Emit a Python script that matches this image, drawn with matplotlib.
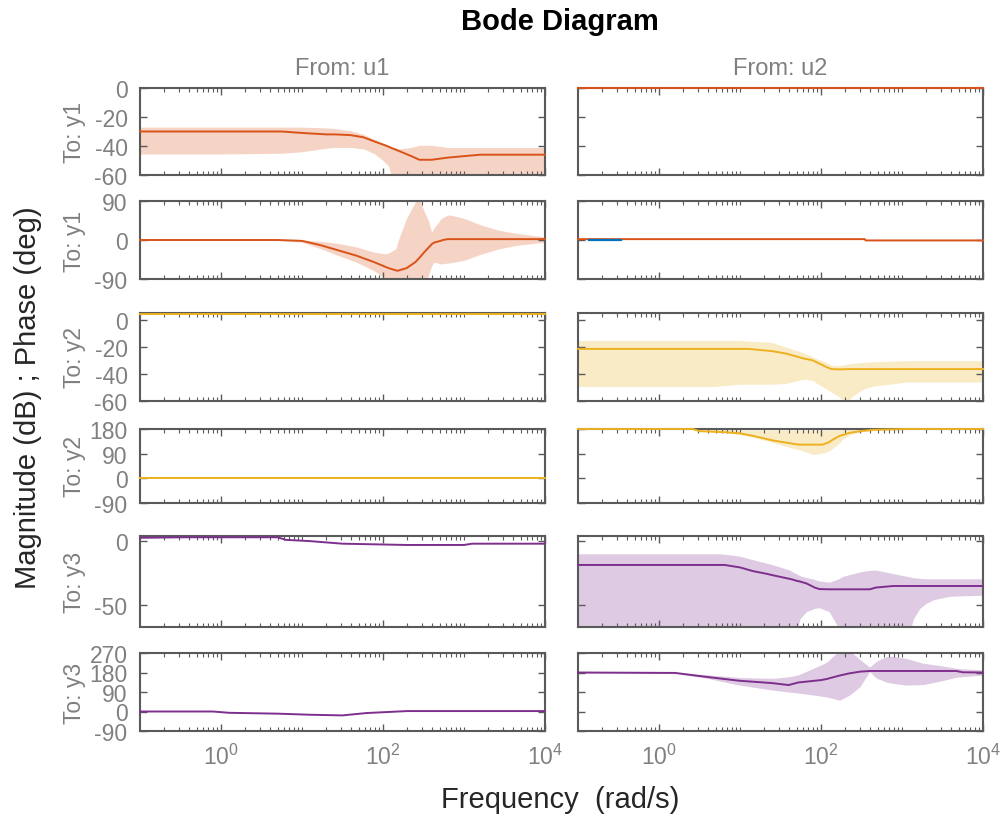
import numpy as np
import matplotlib
matplotlib.use("Agg")
import matplotlib.pyplot as plt
from matplotlib.ticker import LogLocator, NullFormatter

plt.rcParams['font.family'] = ['Liberation Sans', 'DejaVu Sans']
plt.rcParams['axes.unicode_minus'] = False

# colours of the three outputs
C_Y1 = '#D95319'
C_Y2 = '#EDB120'
C_Y3 = '#7E2F8E'
GRAY = '#808080'

# frequencies are stored as log10(w), w in rad/s
# --- From u1 -> y1, magnitude (dB)
lw_a = [-1, 0.0, 0.75, 1.0, 1.3, 1.41, 1.6, 1.76, 1.9, 2.0, 2.07, 2.11, 2.2, 2.35, 2.45, 2.6, 2.8, 3.0, 3.2, 4]
mag_a = [-30, -30, -30, -31, -32, -32, -32.5, -34, -37, -39, -40.5, -41.5, -43.5, -47, -49.5, -49.5, -48, -47, -46, -46]
mag_a_hi = [-27, -27, -27, -27, -27.5, -28, -29.5, -32, -35.5, -38, -39.5, -40.5, -42, -41, -39.5, -39.5, -41, -41, -41, -41]
mag_a_lo = [-45.5, -45.5, -45, -44, -41.5, -41, -41, -42, -45.5, -50, -54, -62, -62, -62, -62, -62, -62, -62, -62, -62]

# --- From u1 -> y1, phase (deg)
lw_b = [-1, 0.7, 1.0, 1.23, 1.45, 1.67, 1.89, 2.03, 2.07, 2.16, 2.18, 2.29, 2.4, 2.44, 2.51, 2.56, 2.6, 2.63,
        2.69, 2.71, 2.74, 2.8, 2.82, 3.0, 3.22, 3.44, 3.66, 4]
ph_b = [0, 0, -2, -12, -24, -36, -51, -62, -65, -70, -71, -65, -51, -43, -28, -18, -10, -6,
        -3, -2, 0, 2, 2, 2, 2, 2, 2, 2]
ph_b_hi = [1, 1, 0, -3, -8, -16, -28, -32, -30, -20, -5, 50, 88, 100, 65, 45, 18, 28,
           42, 48, 52, 57, 58, 50, 34, 22, 15, 7]
ph_b_lo = [-1, -1, -5, -20, -36, -51, -71, -90, -100, -100, -100, -100, -100, -100, -100, -82, -60, -51,
           -54, -55, -55, -53, -53, -47, -32, -20, -12, -5]

# --- From u2 -> y1
lw_c = [-1, 4]
mag_c = [0, 0]
lw_d = [-1, 2.54, 2.55, 4]
ph_d = [2, 2, -1, -1]
lw_d_blue = [-0.86, -0.47]
ph_d_blue = [-1, -1]

# --- From u1 -> y2
lw_e = [-1, 4]
mag_e = [4.5, 4.5]
lw_f = [-1, 4]
ph_f = [0, 0]

# --- From u2 -> y2, magnitude
lw_g = [-1, 0.67, 1.0, 1.1, 1.37, 1.41, 1.57, 1.74, 1.78, 1.82, 1.9, 1.95, 2.02, 2.07, 2.13, 2.2, 2.27, 2.3,
        2.4, 2.52, 2.64, 2.93, 3.05, 4]
mag_g = [-21.5, -21.5, -21.5, -21.5, -23, -23.3, -25, -27.8, -28.5, -29, -30, -31.5, -33.5, -35, -36.4, -36.6,
         -36.6, -36.5, -36.4, -36.4, -36.4, -36.4, -36.4, -36.4]
mag_g_hi = [-15.3, -15.3, -15.3, -15.8, -16.6, -17, -20.3, -23.5, -24.3, -25.3, -27.5, -29, -30.2, -31.8, -33.5,
            -34, -33.5, -33, -32, -31.5, -31, -30.5, -30.2, -30.2]
mag_g_lo = [-49.3, -49.3, -47.6, -47.6, -47.6, -47.6, -47, -44.5, -44, -44, -45, -47, -49.5, -51.3, -53.5, -56,
            -59, -61, -56, -51.3, -49, -47, -46, -46]

# --- From u2 -> y2, phase
lw_h = [-1, 0.42, 0.5, 0.83, 1.0, 1.16, 1.41, 1.7, 1.74, 1.9, 2.02, 2.1, 2.14, 2.23, 2.27, 2.35, 2.44, 2.48,
        2.64, 3.05, 4]
ph_h = [180, 180, 172, 168, 164, 155, 138, 124, 123, 123, 123, 132, 140, 155, 158, 166, 170, 172, 177, 180, 180]
ph_h_hi = [181, 181, 180, 178, 176, 176, 176, 176, 176, 176, 176, 176, 176, 176, 178, 180, 181, 181, 181, 181, 181]
ph_h_lo = [180, 178, 174, 166, 160, 150, 130, 106, 104, 87, 92, 100, 109, 130, 144, 158, 166, 168, 174, 178, 180]

# --- From u1 -> y3
lw_i = [-1, -0.44, 0.7, 0.8, 1.1, 1.2, 1.5, 2.29, 3.0, 3.1, 4]
mag_i = [2.6, 3, 3, 1, 0, -0.5, -2, -3, -3, -2, -2]
lw_j = [-1, -0.1, 0.1, 0.7, 1.1, 1.5, 1.8, 2.3, 4]
ph_j = [0, 0, -6, -10, -15, -18, -7, 2, 2]

# --- From u2 -> y3, magnitude
lw_k = [-1, 0.75, 0.81, 1.0, 1.16, 1.33, 1.41, 1.61, 1.65, 1.7, 1.74, 1.82, 1.9, 1.92, 1.98, 2.1, 2.19, 2.23,
        2.27, 2.48, 2.6, 2.68, 2.89, 3.1, 3.14, 3.22, 3.3, 3.39, 3.59, 4]
mag_k = [-18.6, -18.6, -18.6, -20.5, -23.4, -25.5, -26.7, -29.4, -30, -31, -31.5, -33, -35.5, -36.2, -37.4,
         -37.6, -37.6, -37.6, -37.6, -37.6, -37.6, -36.2, -35, -35, -35, -35, -35, -35, -35, -35]
mag_k_hi = [-9.9, -9.9, -10.2, -11.8, -14.5, -17.2, -18.5, -22.5, -24, -25.5, -27, -28.5, -29.4, -30, -31,
            -32.1, -30, -29, -27.5, -24, -22.8, -22.6, -25.3, -28, -28.5, -29, -29.4, -29.4, -29.4, -29.4]
mag_k_lo = [-70, -70, -70, -70, -70, -70, -70, -70, -70, -70, -60.7, -55, -53, -52.5, -52, -55, -64.8, -70,
            -70, -70, -70, -70, -70, -70, -60.7, -52.5, -48.5, -45.7, -43, -42.2]

# --- From u2 -> y3, phase
lw_l = [-1, 0.2, 0.58, 0.99, 1.4, 1.6, 1.72, 2.0, 2.07, 2.17, 2.23, 2.35, 2.45, 2.48, 2.6, 2.68, 2.81, 2.89,
        2.97, 3.05, 3.26, 3.47, 3.67, 3.75, 4]
ph_l = [180, 178, 160, 142, 131, 122, 134, 145, 150, 160, 166, 176, 182, 184, 187, 187, 187, 187, 187, 187,
        187, 187, 187, 181, 180]
ph_l_hi = [182, 180, 170, 157, 153, 160, 169, 215, 228, 262, 275, 280, 250, 240, 205, 231, 254, 255, 250, 245,
           223, 212, 200, 197, 192]
ph_l_lo = [178, 176, 154, 122, 99, 90, 85, 71, 67, 58, 52, 75, 105, 114, 184, 155, 135, 130, 126, 122, 124,
           140, 158, 161, 168]

# axes layout in pixels: (top, bottom) of each row, (left, right) of each column
W, H = 1007, 820
rows = [(89, 176), (202, 280), (314, 402), (430, 504), (537, 628), (654, 732)]
cols = [(140, 545), (578, 983)]
ylims = [(-60, 0), (-90, 90), (-60, 5), (-90, 180), (-67, 4), (-90, 270)]
yticks = [[-60, -40, -20, 0], [-90, 0, 90], [-60, -40, -20, 0], [-90, 0, 90, 180], [-50, 0],
          [-90, 0, 90, 180, 270]]
row_names = ['To: y1', 'To: y1', 'To: y2', 'To: y2', 'To: y3', 'To: y3']

fig = plt.figure(figsize=(W / 100, H / 100), dpi=100)

axes = {}
for r, (top, bot) in enumerate(rows):
    for c, (l, rr) in enumerate(cols):
        ax = fig.add_axes([l / W, 1 - bot / H, (rr - l) / W, (bot - top) / H])
        ax.set_xscale('log')
        ax.set_xlim(0.1, 1e4)
        ax.set_ylim(*ylims[r])
        ax.set_xticks([1, 100, 10000])
        ax.xaxis.set_minor_locator(LogLocator(base=10, subs=np.arange(1, 10), numticks=20))
        ax.xaxis.set_minor_formatter(NullFormatter())
        ax.set_yticks(yticks[r])
        ax.tick_params(which='both', direction='in', top=True, right=True, colors='#5a5a5a',
                       labelcolor=GRAY, labelsize=16.5, pad=9)
        ax.tick_params(which='major', length=5, width=1)
        ax.tick_params(which='minor', length=3, width=0.8)
        for s in ax.spines.values():
            s.set_color('#5a5a5a')
            s.set_linewidth(1.5)
            s.set_zorder(2.5)
        if c == 1:
            ax.set_yticklabels([])
        if r < 5:
            ax.set_xticklabels([])
        axes[(r, c)] = ax
    fig.text(74 / W, 1 - (top + bot) / 2 / H, row_names[r], rotation=90, ha='center', va='center',
             color=GRAY, fontsize=16.5)


def draw(ax, lw, mid, color, lo=None, hi=None):
    w = 10.0 ** np.array(lw)
    if lo is not None:
        ax.fill_between(w, lo, hi, color=color, alpha=0.25, linewidth=0, zorder=1)
    ax.plot(w, mid, color=color, lw=1.4, zorder=3, clip_on=False)


draw(axes[(0, 0)], lw_a, mag_a, C_Y1, mag_a_lo, mag_a_hi)
draw(axes[(1, 0)], lw_b, ph_b, C_Y1, ph_b_lo, ph_b_hi)
draw(axes[(0, 1)], lw_c, mag_c, C_Y1)
draw(axes[(1, 1)], lw_d, ph_d, C_Y1)
axes[(1, 1)].plot(10.0 ** np.array(lw_d_blue), ph_d_blue, color='#0072BD', lw=1.6, zorder=4)
draw(axes[(2, 0)], lw_e, mag_e, C_Y2)
draw(axes[(3, 0)], lw_f, ph_f, C_Y2)
draw(axes[(2, 1)], lw_g, mag_g, C_Y2, mag_g_lo, mag_g_hi)
draw(axes[(3, 1)], lw_h, ph_h, C_Y2, ph_h_lo, ph_h_hi)
draw(axes[(4, 0)], lw_i, mag_i, C_Y3)
draw(axes[(5, 0)], lw_j, ph_j, C_Y3)
draw(axes[(4, 1)], lw_k, mag_k, C_Y3, mag_k_lo, mag_k_hi)
draw(axes[(5, 1)], lw_l, ph_l, C_Y3, ph_l_lo, ph_l_hi)

axes[(0, 0)].set_title('From: u1', color=GRAY, fontsize=17, pad=10)
axes[(0, 1)].set_title('From: u2', color=GRAY, fontsize=17, pad=10)

fig.text(560 / W, 1 - 22 / H, 'Bode Diagram', ha='center', va='center', fontsize=21, fontweight='bold')
fig.text(28 / W, 1 - 398 / H, 'Magnitude (dB) ; Phase (deg)', rotation=90, ha='center', va='center',
         fontsize=21, color='#262626')
fig.text(560 / W, 1 - 800 / H, 'Frequency  (rad/s)', ha='center', va='center', fontsize=21, color='#262626')

fig.savefig('out.png', dpi=100)
